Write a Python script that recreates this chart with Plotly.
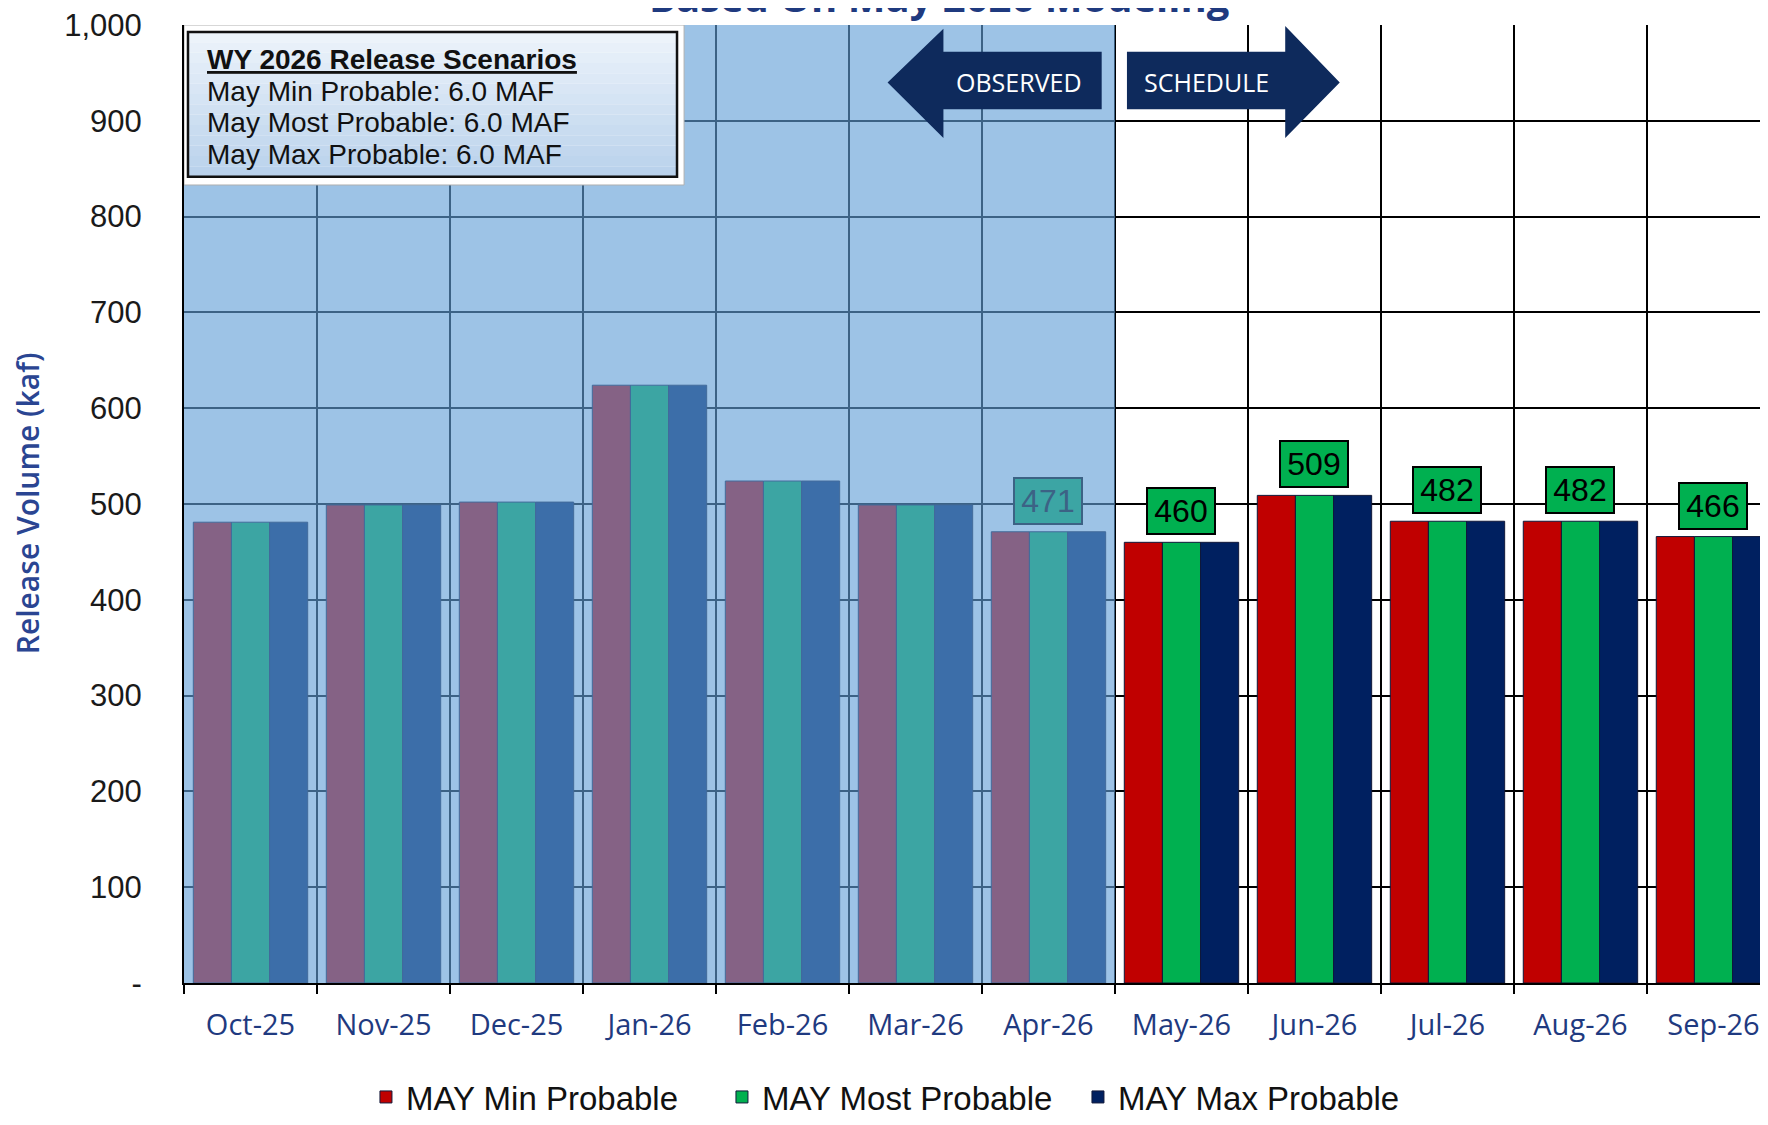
import plotly.graph_objects as go

# --- data (kaf) ---
months = ['Oct-25', 'Nov-25', 'Dec-25', 'Jan-26', 'Feb-26', 'Mar-26',
          'Apr-26', 'May-26', 'Jun-26', 'Jul-26', 'Aug-26', 'Sep-26']
min_probable = [481, 499, 502, 624, 524, 499, 471, 460, 509, 482, 482, 466]
most_probable = [481, 499, 502, 624, 524, 499, 471, 460, 509, 482, 482, 466]
max_probable = [481, 499, 502, 624, 524, 499, 471, 460, 509, 482, 482, 466]
n_observed = 7          # Oct-25 .. Apr-26 are observed
first_labeled = 6       # value boxes from Apr-26 on

series_names = ['MAY Min Probable', 'MAY Most Probable', 'MAY Max Probable']
series_colors = ['#C00000', '#00B050', '#002060']

y_ticks = [0, 100, 200, 300, 400, 500, 600, 700, 800, 900, 1000]
y_tick_text = ['-', '100', '200', '300', '400', '500', '600', '700', '800', '900', '1,000']

box_title = 'WY 2026 Release Scenarios'
scenario_names = ['May Min Probable', 'May Most Probable', 'May Max Probable']
scenario_totals = [6.0, 6.0, 6.0]

title = 'Based On May 2026 Modeling'

# overlay used to tint the observed months
shade_rgb = (97, 158, 215)
shade_alpha = 0.62


def blend(rgb):
    r, g, b = [round(shade_alpha * s + (1 - shade_alpha) * c) for s, c in zip(shade_rgb, rgb)]
    return f'rgb({r},{g},{b})'


def hex_rgb(h):
    h = h.lstrip('#')
    return tuple(int(h[i:i + 2], 16) for i in (0, 2, 4))


fig = go.Figure()

for name, vals, col in zip(series_names, [min_probable, most_probable, max_probable], series_colors):
    fig.add_trace(go.Bar(
        x=months, y=vals, name=name,
        marker=dict(color=col, line=dict(color='#10183a', width=1)),
        hoverinfo='x+y'
    ))

shapes = []
# blue tint over the observed period (sits above the bars like the original)
shapes.append(dict(type='rect', xref='x', yref='y', x0=-0.5, x1=n_observed - 0.5, y0=0, y1=1000,
                   fillcolor='rgb(%d,%d,%d)' % shade_rgb, opacity=shade_alpha,
                   line=dict(width=0), layer='above'))

# scenario text box: white frame, gradient panel, black border
shapes.append(dict(type='rect', xref='x', yref='y', x0=-0.5, x1=3.26, y0=833, y1=1000,
                   fillcolor='white', line=dict(color='#b0b0b0', width=1), layer='above'))
n_strips = 14
top_c, bot_c = (236, 243, 250), (186, 210, 236)
y_top, y_bot = 992.7, 841.7
for i in range(n_strips):
    t = i / (n_strips - 1)
    c = tuple(round(a + (b - a) * t) for a, b in zip(top_c, bot_c))
    ya = y_top - (y_top - y_bot) * i / n_strips
    yb = y_top - (y_top - y_bot) * (i + 1) / n_strips
    shapes.append(dict(type='rect', xref='x', yref='y', x0=-0.47, x1=3.207, y0=yb, y1=ya,
                       fillcolor='rgb(%d,%d,%d)' % c, line=dict(width=0), layer='above'))
shapes.append(dict(type='rect', xref='x', yref='y', x0=-0.47, x1=3.207, y0=y_bot, y1=y_top,
                   fillcolor='rgba(0,0,0,0)', line=dict(color='#111', width=2.5), layer='above'))

# OBSERVED / SCHEDULE arrows
navy = '#0E2A5C'
shapes.append(dict(type='path', xref='x', yref='y', layer='above', fillcolor=navy, line=dict(width=0),
                   path='M 4.79 940 L 5.21 996 L 5.21 972 L 6.40 972 L 6.40 912 L 5.21 912 L 5.21 882 Z'))
shapes.append(dict(type='path', xref='x', yref='y', layer='above', fillcolor=navy, line=dict(width=0),
                   path='M 8.19 940 L 7.78 999 L 7.78 972 L 6.59 972 L 6.59 912 L 7.78 912 L 7.78 882 Z'))

annotations = []
annotations.append(dict(text='OBSERVED', x=5.78, y=941, xref='x', yref='y', showarrow=False,
                        font=dict(family='Open Sans', size=25, color='white')))
annotations.append(dict(text='SCHEDULE', x=7.19, y=941, xref='x', yref='y', showarrow=False,
                        font=dict(family='Open Sans', size=25, color='white')))

# value boxes
for i in range(first_labeled, len(months)):
    observed = i < n_observed
    bg = blend(hex_rgb('#00B050')) if observed else '#00B050'
    ink = blend((0, 0, 0)) if observed else 'black'
    annotations.append(dict(
        x=months[i], y=most_probable[i], xref='x', yref='y', text=str(most_probable[i]),
        showarrow=False, yanchor='bottom', yshift=7, width=66, height=44,
        bgcolor=bg, bordercolor=ink, borderwidth=2, borderpad=0,
        font=dict(family='Liberation Sans, Arial', size=32, color=ink)
    ))

# scenario box text
box_lines = ["<span style='text-decoration:underline'><b>%s</b></span>" % box_title] + \
            ['%s: %.1f MAF' % (n, v) for n, v in zip(scenario_names, scenario_totals)]
box_y = [964, 930.5, 898, 864.5]
for txt, yy in zip(box_lines, box_y):
    annotations.append(dict(text=txt, x=-0.34, y=yy, xref='x', yref='y', showarrow=False,
                            xanchor='left', yanchor='middle',
                            font=dict(family='Liberation Sans, Arial', size=28, color='#111')))

# y axis title
annotations.append(dict(text='Release Volume (kaf)', x=-0.099, y=0.501, xref='paper', yref='paper',
                        xanchor='center', yanchor='middle', textangle=-90, showarrow=False,
                        font=dict(family='Open Sans', size=30, color='#2A4592', weight=600)))

# chart title (cut off by the top of the page, as in the source)
annotations.append(dict(text='<b>%s</b>' % title, x=0.477, y=0.999, xref='paper', yref='paper',
                        xanchor='center', yanchor='bottom', showarrow=False,
                        font=dict(family='Open Sans', size=40, color='#1F3A7F')))

# page body has an 8px margin, so the figure is 8px smaller and margins 8px tighter
fig.update_layout(
    width=1760, height=1117,
    margin=dict(l=176, r=0, t=15, b=142),
    paper_bgcolor='white', plot_bgcolor='white',
    barmode='group', bargap=0.14, bargroupgap=0,
    shapes=shapes, annotations=annotations,
    showlegend=True,
    legend=dict(orientation='h', x=0.452, xanchor='center',
                yref='container', y=-0.005, yanchor='bottom',
                font=dict(family='Liberation Sans, Arial', size=33, color='#111'),
                traceorder='normal', itemwidth=30, entrywidthmode='pixels', entrywidth=311),
    xaxis=dict(range=[-0.5, 11.41], tickson='boundaries', showgrid=True,
               gridcolor='black', gridwidth=1.5, showline=True, linecolor='black', linewidth=2,
               ticks='outside', ticklen=9, tickcolor='black', tickwidth=1.5,
               ticklabelstandoff=15,
               tickfont=dict(family='Open Sans', size=29, color='#1F3A80')),
    yaxis=dict(range=[0, 1000], tickvals=y_ticks, ticktext=y_tick_text, showgrid=True,
               gridcolor='black', gridwidth=1.5, showline=True, linecolor='black', linewidth=2,
               ticks='', ticklabelstandoff=34, zeroline=False, ticklabeloverflow='allow',
               tickfont=dict(family='Liberation Sans, Arial', size=31, color='#1a1a1a')),
)

fig.write_html('out.html')
